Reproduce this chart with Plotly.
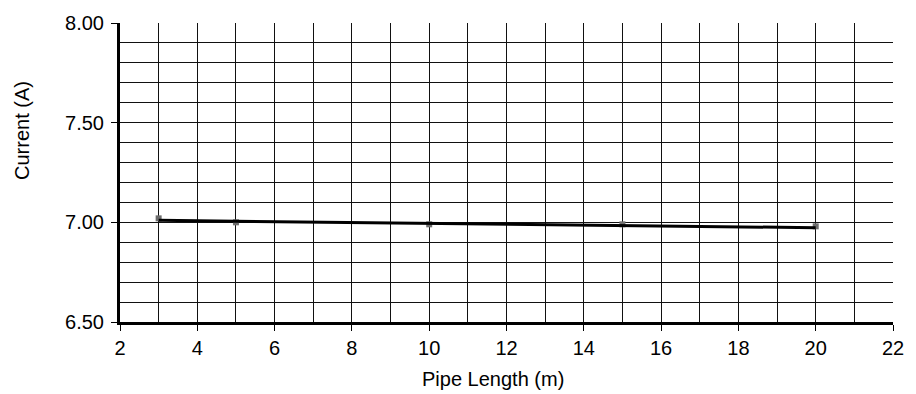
import plotly.graph_objects as go

# Measured current against pipe length
pipe_length = [3, 5, 10, 15, 20]
current = [7.02, 7.00, 6.99, 6.99, 6.98]

# Linear trend line end points
trend_x = [3, 20]
trend_y = [7.010, 6.973]

x_ticks = [2, 4, 6, 8, 10, 12, 14, 16, 18, 20, 22]
y_ticks = [6.50, 7.00, 7.50, 8.00]

FONT = "Liberation Sans, Arial, Helvetica, sans-serif"

fig = go.Figure()
fig.add_trace(go.Scatter(
    x=pipe_length, y=current, mode="markers",
    marker=dict(symbol="square", size=6, color="#6e6e6e"),
    showlegend=False,
))
fig.add_trace(go.Scatter(
    x=trend_x, y=trend_y, mode="lines",
    line=dict(color="black", width=3),
    showlegend=False,
))

grid_color = "#111111"
fig.update_xaxes(
    range=[2, 22], tickvals=x_ticks, ticktext=[str(v) for v in x_ticks],
    showgrid=True, gridcolor=grid_color, gridwidth=1.4,
    minor=dict(dtick=1, tick0=0, showgrid=True, gridcolor=grid_color, gridwidth=1.4),
    showline=True, linecolor="black", linewidth=3,
    ticks="outside", ticklen=6, tickwidth=1.3, tickcolor="black",
    tickfont=dict(family=FONT, size=20, color="black"),
    zeroline=False,
)
fig.update_yaxes(
    range=[6.5, 8.0], tickvals=y_ticks, ticktext=[f"{v:.2f}" for v in y_ticks],
    showgrid=True, gridcolor=grid_color, gridwidth=1.4,
    minor=dict(dtick=0.1, tick0=6.5, showgrid=True, gridcolor=grid_color, gridwidth=1.4),
    showline=True, linecolor="black", linewidth=3,
    ticks="outside", ticklen=6, tickwidth=1.3, tickcolor="black",
    tickfont=dict(family=FONT, size=20, color="black"),
    ticklabelstandoff=3,
    zeroline=False,
)

fig.update_layout(
    width=916, height=394,
    margin=dict(l=120, r=19, t=20, b=72),
    paper_bgcolor="white", plot_bgcolor="white",
    annotations=[
        dict(text="Pipe Length (m)", x=0.482, y=0, xref="paper", yref="paper",
             xanchor="center", yanchor="middle", showarrow=False,
             yshift=-(379 - 322),
             font=dict(family=FONT, size=20, color="black")),
        dict(text="Current (A)", x=0, y=1, xref="paper", yref="paper",
             xanchor="center", yanchor="middle", showarrow=False, textangle=-90,
             xshift=22 - 120, yshift=-(128 - 20),
             font=dict(family=FONT, size=20, color="black")),
    ],
)

fig.write_html("out.html")
